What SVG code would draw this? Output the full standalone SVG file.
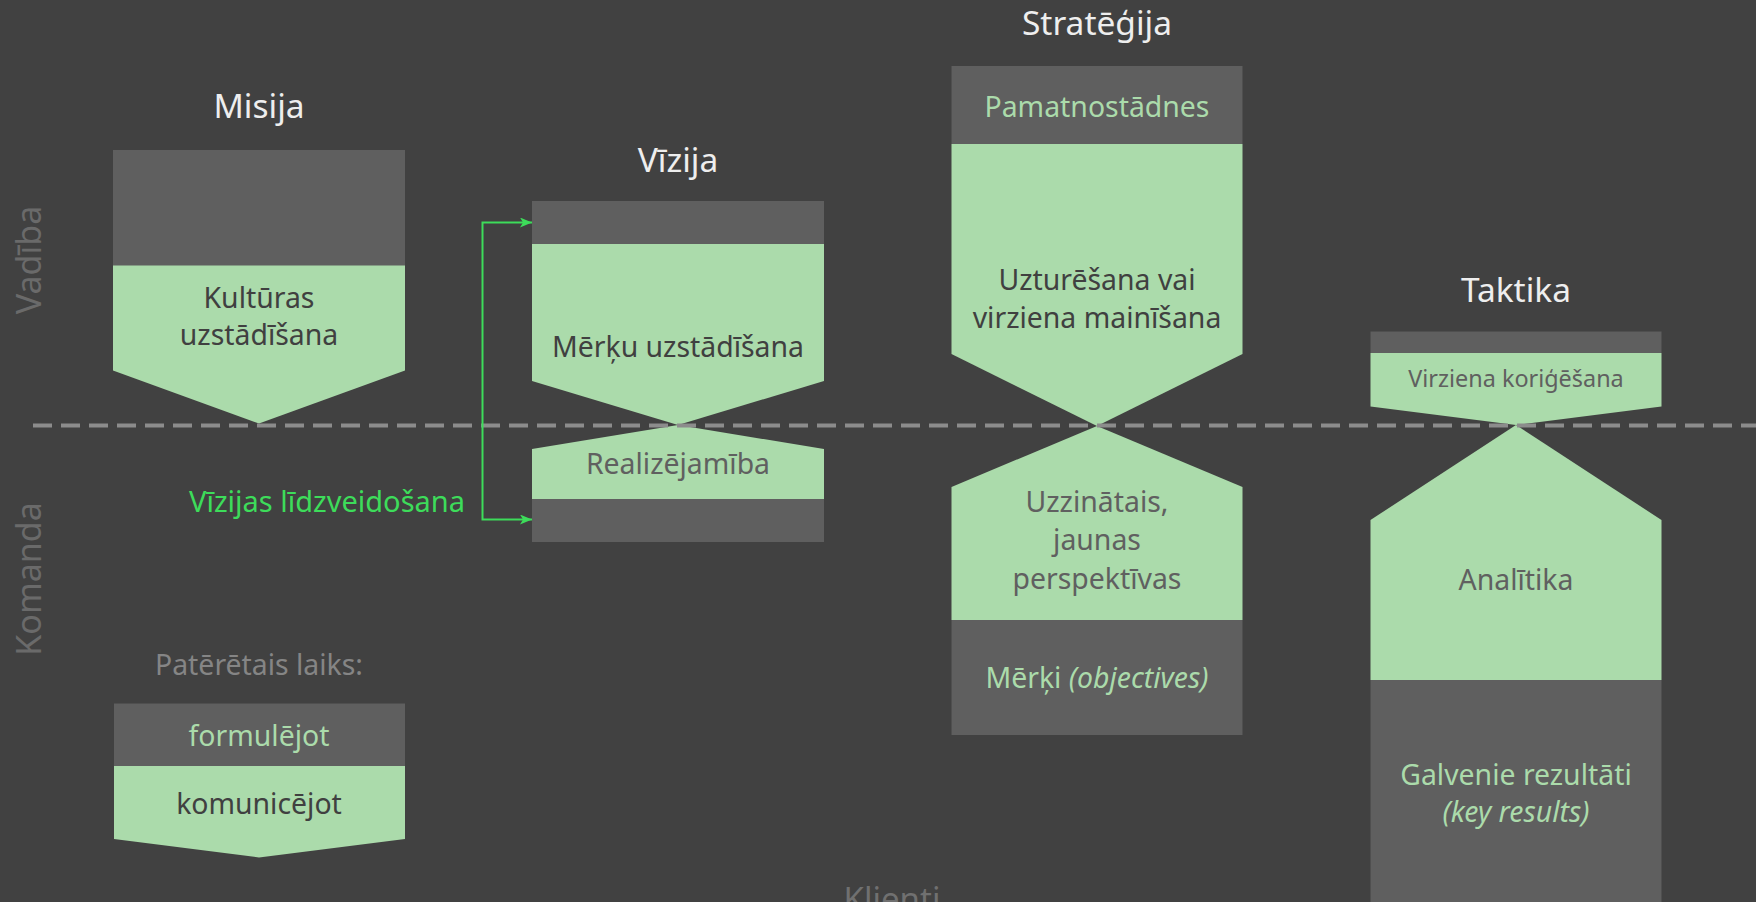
<svg xmlns="http://www.w3.org/2000/svg" width="1756" height="902" viewBox="0 0 1756 902">
<style>
text{font-family:"Noto Sans",Roboto,sans-serif;text-anchor:middle}
.title{font-size:33.5px;fill:#eeeeee}
.dk{fill:#5f5f5f}
.gr{fill:#abdbab}
.t1{font-size:28.4px;fill:#404040}
.t2{font-size:28.4px;fill:#606060}
.t3{font-size:28.4px;fill:#abdbab}
.side{font-size:34px;fill:#6a6a6a}
</style>
<defs>
<marker id="ah" viewBox="0 0 12 10" refX="12" refY="5" markerWidth="12" markerHeight="10" markerUnits="userSpaceOnUse" orient="auto-start-reverse">
<path d="M0,0 L12,5 L0,10 L3,5 Z" fill="#3ddc5a"/>
</marker>
</defs>
<rect width="1756" height="902" fill="#414141"/>

<text class="side" transform="translate(41,260) rotate(-90)">Vadība</text>
<text class="side" transform="translate(41,579) rotate(-90)">Komanda</text>

<g id="misija">
<text class="title" x="259" y="118">Misija</text>
<rect class="dk" x="113" y="150" width="292" height="116"/>
<polygon class="gr" points="113,265.5 405,265.5 405,370.5 259,423.5 113,370.5"/>
<text class="t1" x="259" y="307.5">Kultūras</text>
<text class="t1" x="259" y="345">uzstādīšana</text>
</g>

<g id="vizija">
<text class="title" x="678" y="171.5">Vīzija</text>
<rect class="dk" x="532" y="201" width="292" height="43"/>
<polygon class="gr" points="532,244 824,244 824,381 678,425 532,381"/>
<text class="t1" x="678" y="356.5">Mērķu uzstādīšana</text>
<polygon class="gr" points="678,425 824,449 824,499 532,499 532,449"/>
<text class="t2" x="678" y="474">Realizējamība</text>
<rect class="dk" x="532" y="499" width="292" height="43"/>
</g>

<g id="strategija">
<text class="title" x="1097" y="35">Stratēģija</text>
<rect class="dk" x="951.5" y="66" width="291" height="78"/>
<text class="t3" x="1097" y="116.5">Pamatnostādnes</text>
<polygon class="gr" points="951.5,144 1242.5,144 1242.5,354 1097,426 951.5,354"/>
<text class="t1" x="1097" y="290">Uzturēšana vai</text>
<text class="t1" x="1097" y="328">virziena mainīšana</text>
<polygon class="gr" points="1097,426 1242.5,487 1242.5,620 951.5,620 951.5,487"/>
<text class="t2" x="1097" y="511.5">Uzzinātais,</text>
<text class="t2" x="1097" y="550">jaunas</text>
<text class="t2" x="1097" y="588.5">perspektīvas</text>
<rect class="dk" x="951.5" y="620" width="291" height="115"/>
<text class="t3" x="1097" y="687.5">Mērķi <tspan font-style="italic">(objectives)</tspan></text>
</g>

<g id="taktika">
<text class="title" x="1516" y="301.5">Taktika</text>
<rect class="dk" x="1370.5" y="331.5" width="291" height="21.5"/>
<polygon class="gr" points="1370.5,353 1661.5,353 1661.5,406.5 1516,425 1370.5,406.5"/>
<text class="t2" x="1516" y="386.5" style="font-size:23.4px">Virziena koriģēšana</text>
<polygon class="gr" points="1516,425 1661.5,520 1661.5,680 1370.5,680 1370.5,520"/>
<text class="t2" x="1516" y="590">Analītika</text>
<rect class="dk" x="1370.5" y="680" width="291" height="230"/>
<text class="t3" x="1516" y="785">Galvenie rezultāti</text>
<text class="t3" x="1516" y="821.5" font-style="italic">(key results)</text>
</g>

<g id="laiks">
<text x="259" y="674.5" style="font-size:28.4px;fill:#858585">Patērētais laiks:</text>
<rect class="dk" x="114" y="703.5" width="291" height="62.5"/>
<text class="t3" x="259" y="745.5">formulējot</text>
<polygon class="gr" points="114,766 405,766 405,839 259,857.5 114,839"/>
<text class="t1" x="259" y="813.5">komunicējot</text>
</g>

<text x="892" y="911" style="font-size:33px;fill:#707070">Klienti</text>

<line x1="33" y1="425.5" x2="1756" y2="425.5" stroke="#8c8c8c" stroke-width="4" stroke-dasharray="19 9"/>

<g id="connectors">
<path d="M532,222.5 H482.5 V519.5 H532" fill="none" stroke="#3ddc5a" stroke-width="2" marker-start="url(#ah)" marker-end="url(#ah)"/>
<text x="465" y="512" style="font-size:29px;fill:#3ddc5a;text-anchor:end">Vīzijas līdzveidošana</text>
</g>
</svg>
